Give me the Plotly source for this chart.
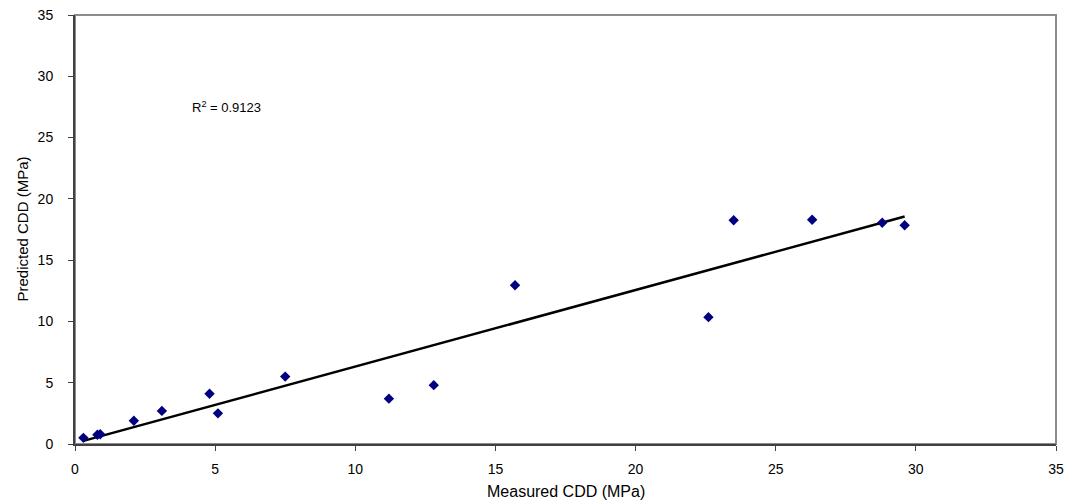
import numpy as np
import plotly.graph_objects as go

measured = [0.3, 0.8, 0.9, 2.1, 3.1, 4.8, 5.1, 7.5, 11.2, 12.8, 15.7, 22.6, 23.5, 26.3, 28.8, 29.6]
predicted = [0.5, 0.75, 0.8, 1.9, 2.7, 4.1, 2.5, 5.5, 3.7, 4.8, 12.95, 10.35, 18.25, 18.3, 18.05, 17.85]
tick_vals = [0, 5, 10, 15, 20, 25, 30, 35]
r2_text = "R<sup>2</sup> = 0.9123"
x_title = "Measured CDD (MPa)"
y_title = "Predicted CDD (MPa)"

slope, intercept = np.polyfit(measured, predicted, 1)
fit_x = [min(measured), max(measured)]
fit_y = [slope * v + intercept for v in fit_x]

FONT = "Liberation Sans, Arial, sans-serif"

fig = go.Figure()
fig.add_trace(go.Scatter(x=fit_x, y=fit_y, mode="lines",
                         line=dict(color="black", width=2.5), hoverinfo="skip"))
fig.add_trace(go.Scatter(x=measured, y=predicted, mode="markers",
                         marker=dict(symbol="diamond", size=8, color="#000080",
                                     line=dict(width=0))))

axis_common = dict(range=[0, 35], tickvals=tick_vals, showgrid=False, zeroline=False,
                   showline=True, linecolor="#404040", linewidth=2, automargin=False,
                   ticks="outside", ticklen=5, tickwidth=1, tickcolor="#404040",
                   tickfont=dict(family=FONT, size=14, color="black"))

fig.update_xaxes(**axis_common, ticklabelstandoff=6)
fig.update_yaxes(**axis_common, ticklabelstandoff=12)

fig.add_shape(type="rect", xref="paper", yref="paper", x0=0, y0=0, x1=1, y1=1,
              line=dict(color="#8c8c8c", width=2), layer="below")

fig.add_annotation(xref="x", yref="y", x=4.1, y=27.5, text=r2_text, showarrow=False,
                   xanchor="left", yanchor="middle",
                   font=dict(family=FONT, size=13, color="black"))
fig.add_annotation(xref="paper", yref="paper", x=0.5, y=0, yshift=-47, text=x_title,
                   showarrow=False, xanchor="center", yanchor="middle",
                   font=dict(family=FONT, size=16, color="black"))
fig.add_annotation(xref="paper", yref="paper", x=0, y=0.5, xshift=-53, text=y_title,
                   showarrow=False, textangle=-90, xanchor="center", yanchor="middle",
                   font=dict(family=FONT, size=15, color="black"))

fig.update_layout(width=1069, height=503, showlegend=False,
                  margin=dict(l=75, r=13, t=15, b=59, autoexpand=False),
                  paper_bgcolor="white", plot_bgcolor="white")

fig.write_html("out.html", config={"displayModeBar": False},
               post_script="document.body.style.margin='0';document.body.style.overflow='hidden';")
